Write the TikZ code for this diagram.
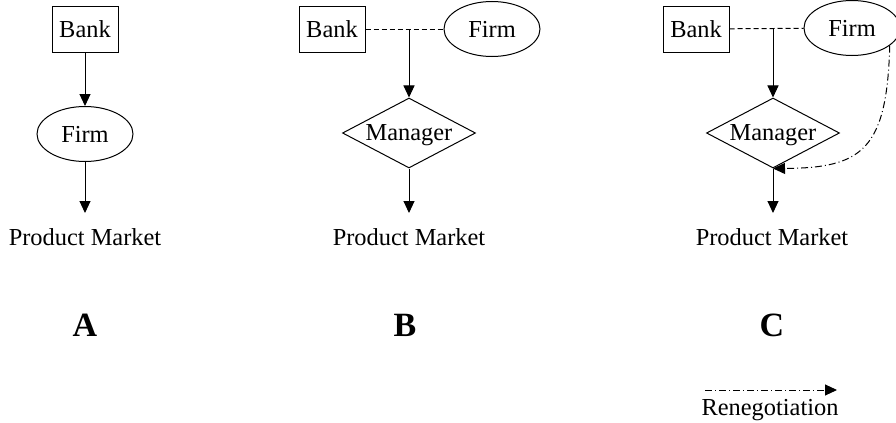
\documentclass[tikz,border=0pt]{standalone}
\usepackage{fontspec}
\setmainfont{Liberation Serif}
\usetikzlibrary{shapes.geometric,arrows.meta}
\tikzset{
  every node/.style={font=\fontsize{12.2}{14}\selectfont},
  bankbox/.style={draw,line width=.5pt,minimum width=33pt,minimum height=23pt,inner sep=0pt},
  firmnode/.style={draw,ellipse,line width=.5pt,minimum width=48pt,minimum height=27.5pt,inner sep=0pt},
  mgr/.style={draw,diamond,aspect=1.9,line width=.5pt,minimum width=66.5pt,minimum height=35pt,inner sep=0pt,text depth=0pt},
  link/.style={line width=.5pt,-{Triangle[length=6pt,width=5.5pt]}},
  tie/.style={line width=.5pt,dash pattern=on 2.5pt off 1.5pt},
  reneg/.style={line width=.5pt,dash pattern=on 3.5pt off 1.5pt on .5pt off 1.5pt,-{Triangle[length=6pt,width=5.5pt]}},
  panel/.style={font=\fontsize{17}{20}\selectfont\bfseries}
}

\begin{document}
\begin{tikzpicture}[x=0.5pt,y=-0.5pt]
\useasboundingbox (0,0) rectangle (896,423);
% panel A
\node[bankbox] (bankA) at (85,29) {Bank};
\node[firmnode] (firmA) at (85,134) {Firm};
\coordinate (endA) at (85,213);
\node (pmA) at (85,237) {Product Market};
\draw[link] (bankA) -- (firmA);
\draw[link] (firmA) -- (endA);
\node[panel] (labA) at (85,325) {A};
% panel B
\node[bankbox] (bankB) at (332,29) {Bank};
\node[firmnode] (firmB) at (492,29) {Firm};
\coordinate (tieB) at (409,29);
\node[mgr] (mgrB) at (409,133) {Manager};
\coordinate (endB) at (409,213);
\node (pmB) at (409,237) {Product Market};
\draw[tie] (bankB) -- (firmB);
\draw[link] (tieB) -- (mgrB);
\draw[link] (mgrB) -- (endB);
\node[panel] (labB) at (405,325) {B};
% panel C
\node[bankbox] (bankC) at (696,29) {Bank};
\node[firmnode] (firmC) at (852,28) {Firm};
\coordinate (tieC) at (773,29);
\node[mgr] (mgrC) at (773,133) {Manager};
\coordinate (endC) at (773,213);
\node (pmC) at (772,237) {Product Market};
\draw[tie] (bankC) -- (firmC);
\draw[link] (tieC) -- (mgrC);
\draw[link] (mgrC) -- (endC);
\draw[reneg] (firmC.-25) .. controls (887,150) and (862,168) .. (mgrC.south);
\node[panel] (labC) at (772,325) {C};
% legend
\coordinate (legS) at (705,390);
\coordinate (legE) at (837,390);
\draw[reneg] (legS) -- (legE);
\node (legT) at (770,410) {Renegotiation};
\end{tikzpicture}
\end{document}
